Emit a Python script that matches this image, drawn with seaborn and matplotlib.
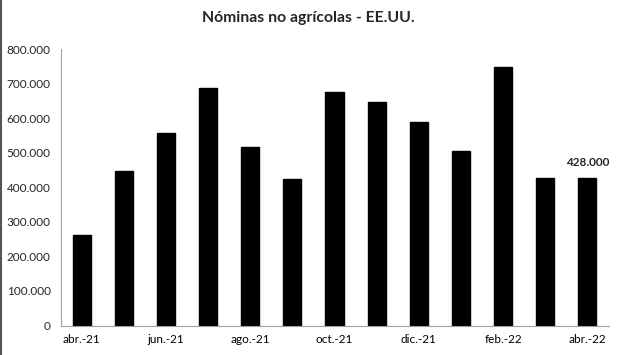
import matplotlib
matplotlib.use("Agg")
import matplotlib.pyplot as plt
import matplotlib.ticker as mticker
from matplotlib.lines import Line2D
import seaborn as sns
import pandas as pd

months = ["abr.-21", "may.-21", "jun.-21", "jul.-21", "ago.-21", "sep.-21", "oct.-21",
          "nov.-21", "dic.-21", "ene.-22", "feb.-22", "mar.-22", "abr.-22"]
values = [263000, 447000, 557000, 689000, 517000, 424000, 677000,
          647000, 588000, 504000, 750000, 428000, 428000]
title = "Nóminas no agrícolas - EE.UU."
last_label = "428.000"

sns.set_theme(style="white")
plt.rcParams['font.family'] = ['Lato', 'DejaVu Sans']

df = pd.DataFrame({"mes": months, "valor": values})

fig = plt.figure(figsize=(6.17, 3.55), dpi=100)
ax = fig.add_axes([60.5/617, 1-325.5/355, 548/617, (325.5-49.3)/355])
sns.barplot(data=df, x="mes", y="valor", color="black", width=0.43,
            saturation=1, ax=ax, edgecolor="black")

ax.set_ylim(0, 800000)
ax.set_xlim(-0.5, len(months)-0.5)
ax.yaxis.set_major_locator(mticker.MultipleLocator(100000))
ax.yaxis.set_major_formatter(mticker.FuncFormatter(lambda v, p: f"{int(v):,}".replace(",", ".")))
ax.set_xlabel("")
ax.set_ylabel("")

# x tick labels every other category, tick marks at category boundaries
ax.set_xticks(range(0, len(months), 2))
ax.set_xticklabels([months[i] for i in range(0, len(months), 2)])
ax.tick_params(axis="x", length=0, pad=6, labelsize=8.5, colors="#000000")
ax.set_xticks([i - 0.5 for i in range(0, len(months), 2)], minor=True)
ax.tick_params(axis="x", which="minor", length=4, color="#a0a0a0", width=0.8, direction="out")
ax.tick_params(axis="y", length=4, color="#a0a0a0", width=0.8, direction="out", labelsize=8.5, pad=3)

for s in ["top", "right"]:
    ax.spines[s].set_visible(False)
for s in ["left", "bottom"]:
    ax.spines[s].set_color("#a0a0a0")
    ax.spines[s].set_linewidth(0.8)

ax.annotate(last_label, xy=(len(months)-1, values[-1]), xytext=(0, 7),
            textcoords="offset points", ha="center", va="bottom",
            fontsize=8.5, fontweight="bold")

fig.text(0.5, 1-18/355, title, ha="center", va="center", fontsize=11.3, fontweight="bold")
fig.add_artist(Line2D([0.002, 0.002], [0, 1], transform=fig.transFigure, color="#555555", lw=1.5))

fig.savefig("out.png", dpi=100)
